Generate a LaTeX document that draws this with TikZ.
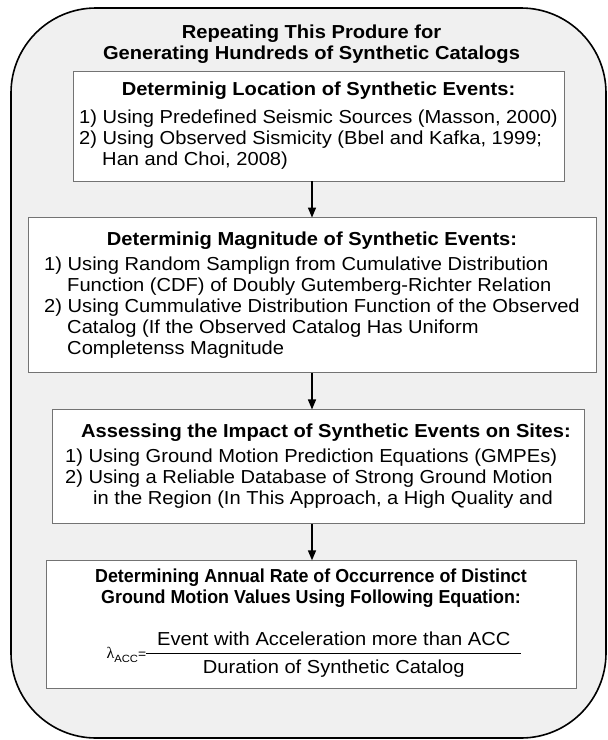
\documentclass[tikz,border=0pt]{standalone}
\usepackage{fontspec}
\setmainfont[FakeStretch=1.07]{Liberation Sans}
\newfontfamily\greekfont{Liberation Serif}
\newfontfamily\narrowfont[FakeStretch=0.95]{Liberation Sans}
\usetikzlibrary{shapes.geometric, arrows, positioning}
\tikzstyle{stepbox} = [rectangle, draw=black!55, line width=0.9pt, fill=white, inner sep=0pt, text centered]
\tikzstyle{frame} = [draw=black, line width=1.6pt, fill=black!6, rounded corners=85pt]
\tikzstyle{arrow} = [line width=1.3pt, -triangle 45]

\begin{document}
\begin{tikzpicture}[x=1pt, y=-1pt, font=\fontsize{18.8}{21}\selectfont]

    \useasboundingbox (0,0) rectangle (608,740);
    \draw [frame] (11,8) rectangle (606,738);

    \node (title) [align=center, font=\fontsize{18.8}{21}\selectfont\bfseries] at (311.5,44.5) {Repeating This Produre for\\Generating Hundreds of Synthetic Catalogs};

    \node (location) [stepbox, minimum width=491pt, minimum height=110pt] at (318.5,126) {\begin{tabular}{@{}l@{}}
        \multicolumn{1}{@{}c@{}}{\bfseries Determinig Location of Synthetic Events:}\\[7pt]
        1) Using Predefined Seismic Sources (Masson, 2000)\\
        2) Using Observed Sismicity (Bbel and Kafka, 1999;\\
        \hspace*{23pt}Han and Choi, 2008)
    \end{tabular}};
    \node (magnitude) [stepbox, minimum width=568pt, minimum height=155pt, below=36pt of location, xshift=-6.5pt] {\begin{tabular}{@{}l@{}}
        \multicolumn{1}{@{}c@{}}{\bfseries Determinig Magnitude of Synthetic Events:}\\[4pt]
        1) Using Random Samplign from Cumulative Distribution\\
        \hspace*{23pt}Function (CDF) of Doubly Gutemberg-Richter Relation\\
        2) Using Cummulative Distribution Function of the Observed\\
        \hspace*{23pt}Catalog (If the Observed Catalog Has Uniform\\
        \hspace*{23pt}Completenss Magnitude
    \end{tabular}\hspace{8pt}};
    \node (impact) [stepbox, minimum width=532pt, minimum height=114pt, below=36pt of magnitude, xshift=6pt] {\begin{tabular}{@{}l@{}}
        \multicolumn{1}{@{}c@{}}{\bfseries\hspace*{16pt}Assessing the Impact of Synthetic Events on Sites:}\\[4pt]
        1) Using Ground Motion Prediction Equations (GMPEs)\\
        2) Using a Reliable Database of Strong Ground Motion\\
        \hspace*{28pt}in the Region (In This Approach, a High Quality and
    \end{tabular}\hspace{22pt}};
    \node (rate) [stepbox, minimum width=530pt, minimum height=128pt, below=36pt of impact, xshift=-7pt] {\begin{tabular}{@{}c@{}}
        \narrowfont\bfseries Determining Annual Rate of Occurrence of Distinct\\
        \narrowfont\bfseries Ground Motion Values Using Following Equation:\\[16pt]
        \hspace*{6pt}{\greekfont\fontsize{16}{16}\selectfont λ}\raisebox{-4pt}{\fontsize{10.5}{10.5}\selectfont ACC}{\fontsize{13}{13}\selectfont =}{\renewcommand{\arraystretch}{1.3}\setlength{\arrayrulewidth}{1pt}\begin{tabular}{@{\hspace{11pt}}c@{\hspace{11pt}}}
            Event with Acceleration more than ACC\\ \hline
            Duration of Synthetic Catalog
        \end{tabular}}
    \end{tabular}};

    \draw [arrow] (location.south -| magnitude.north) -- (magnitude.north);
    \draw [arrow] (magnitude.south) -- (magnitude.south |- impact.north);
    \draw [arrow] (impact.south -| magnitude.south) -- (magnitude.south |- rate.north);

\end{tikzpicture}
\end{document}
